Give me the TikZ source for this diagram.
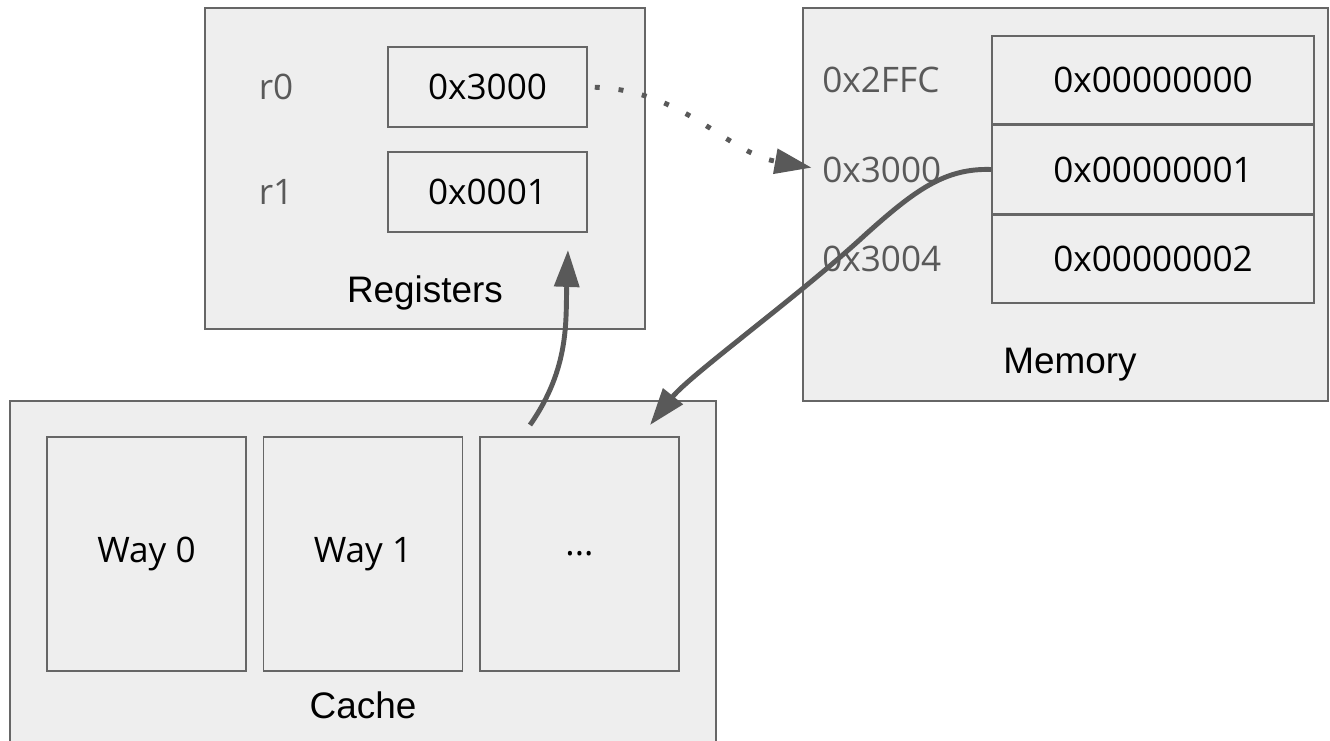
\documentclass[tikz,border=0pt]{standalone}
\usepackage{fontspec}
\setmainfont{Open Sans}
\newfontfamily\titlefont{Liberation Sans}
\usetikzlibrary{arrows.meta,positioning}

\definecolor{boxfill}{HTML}{EEEEEE}
\definecolor{boxline}{HTML}{666666}
\definecolor{linkgray}{HTML}{595959}

\begin{document}
\begin{tikzpicture}
		\tikzset{> = {Triangle[length=21pt,width=14pt]},
			unit/.style = {draw = boxline,fill = boxfill,line width = 0.85pt,inner sep = 0pt},
			regbox/.style = {unit,minimum width = 3.98cm,minimum height = 1.6cm,font = \fontsize{20}{24}\selectfont},
			membox/.style = {unit,minimum width = 6.44cm,minimum height = 1.76cm,font = \fontsize{20}{24}\selectfont},
			waybox/.style = {unit,minimum width = 3.98cm,minimum height = 4.68cm,font = \fontsize{20}{24}\selectfont},
			addr/.style = {text = linkgray,inner sep = 0pt,font = \fontsize{20}{24}\selectfont},
			title/.style = {inner sep = 0pt,font = \titlefont\fontsize{21}{25}\selectfont},
			link/.style = {linkgray,line width = 2.8pt}}
		\useasboundingbox (0,0) rectangle (26.6,14.8);
		% registers
		\node [unit,minimum width = 8.8cm,minimum height = 6.42cm] (regs) at (8.5,11.43) {};
		\node [regbox] (r0) at (9.75,13.06) {0x3000};
		\node [regbox] (r1) at (9.75,10.96) {0x0001};
		\node [addr] (r0name) at (5.52,13.06) {r0};
		\node [addr] (r1name) at (5.52,10.96) {r1};
		\node [title] (regsname) at (8.5,8.94) {Registers};
		% memory
		\node [unit,minimum width = 10.5cm,minimum height = 7.86cm] (mem) at (21.31,10.71) {};
		\node [membox] (cell0) at (23.06,13.2) {0x00000000};
		\node [membox,below = 0pt of cell0] (cell1) {0x00000001};
		\node [membox,below = 0pt of cell1] (cell2) {0x00000002};
		\node [addr,anchor = west] (a2ffc) at (16.44,0 |- cell0) {0x2FFC};
		\node [addr,anchor = west] (a3000) at (16.44,0 |- cell1) {0x3000};
		\node [addr,anchor = west] (a3004) at (16.44,0 |- cell2) {0x3004};
		\node [title] (memname) at (21.4,7.5) {Memory};
		% cache
		\node [unit,minimum width = 14.12cm,minimum height = 7.08cm] (cache) at (7.26,3.24) {};
		\node [waybox] (way0) at (2.93,3.72) {Way 0};
		\node [waybox] (way1) at (7.26,3.72) {Way 1};
		\node [waybox] (wayn) at (11.59,3.72) {...};
		\node [title] (cachename) at (7.26,0.7) {Cache};
		% links
		\coordinate (cin) at (13.0,6.3);
		\coordinate (cout) at (10.6,6.3);
		\coordinate (rin) at (11.36,9.8);
		\draw [link,dash pattern = on 2.8pt off 10.8pt,->,shorten <= 4pt,shorten >= 6pt] (r0.east) to[out = -2,in = 170] (a3000.west);
		\draw [link,->] (cell1.west) .. controls (18.9,11.44) and (18.3,11.0) .. (17.3,10.1)
			.. controls (16.0,8.9) and (13.8,7.3) .. (cin);
		\draw [link,->] (cout) to[out = 55,in = -92] (rin);
	\end{tikzpicture}
\end{document}
